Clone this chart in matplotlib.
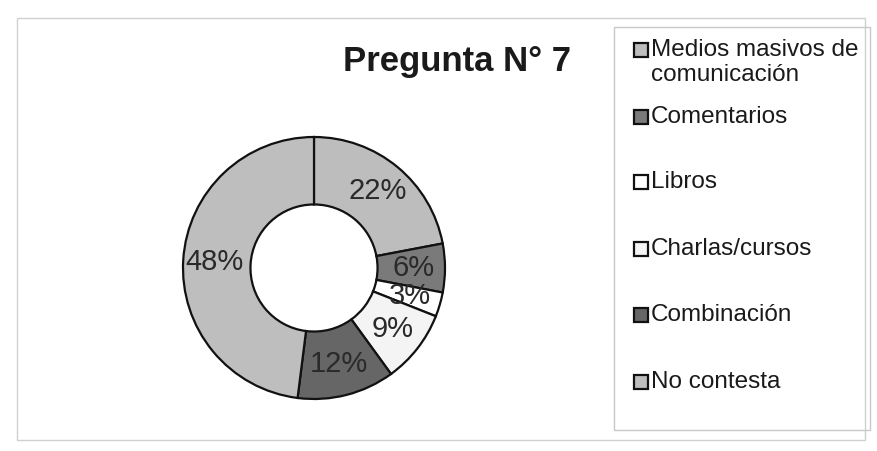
import matplotlib
matplotlib.use("Agg")
import matplotlib.pyplot as plt
from matplotlib.patches import Rectangle

plt.rcParams['font.family'] = ['Liberation Sans', 'DejaVu Sans']

title = "Pregunta N° 7"
categories = ["Medios masivos de\ncomunicación", "Comentarios", "Libros",
              "Charlas/cursos", "Combinación", "No contesta"]
values = [22, 6, 3, 9, 12, 48]
colors = ["#bdbdbd", "#7a7a7a", "#ffffff", "#f4f4f4", "#666666", "#bebebe"]

W, H = 877, 451
fig = plt.figure(figsize=(W / 100, H / 100), dpi=100)
fig.patch.set_facecolor("white")

# outer chart border
fig.add_artist(Rectangle((17 / W, 1 - 440 / H), (865 - 17) / W, (440 - 18) / H,
                         transform=fig.transFigure, fill=False,
                         edgecolor="#d0d0d0", linewidth=1))

# donut
cx, cy, r = 314, 268, 131
ax = fig.add_axes([(cx - r) / W, (H - cy - r) / H, 2 * r / W, 2 * r / H])
wedges, texts, autotexts = ax.pie(
    values, colors=colors, startangle=90, counterclock=False, radius=1,
    autopct=lambda p: f"{p:.0f}%", pctdistance=0.76,
    wedgeprops=dict(width=0.515, edgecolor="#111111", linewidth=1.6),
    textprops=dict(fontsize=21, color="#2a2a2a"))
ax.set_xlim(-1, 1)
ax.set_ylim(-1, 1)
ax.set_aspect("auto")
ax.axis("off")
for w in wedges:
    w.set_clip_on(False)

# title
fig.text(457 / W, 1 - 62 / H, title, fontsize=25, fontweight="bold",
         ha="center", va="center", color="#1a1a1a")

# legend box
fig.add_artist(Rectangle((614 / W, 1 - 430 / H), (870 - 614) / W, (430 - 27) / H,
                         transform=fig.transFigure, fill=False,
                         edgecolor="#c8c8c8", linewidth=1))

legend_y = [48, 115, 180, 247, 313, 380]
sq = 14
for lab, col, y in zip(categories, colors, legend_y):
    fig.add_artist(Rectangle((634 / W, 1 - (y + 2 + sq / 2) / H), sq / W, sq / H,
                             transform=fig.transFigure, facecolor=col,
                             edgecolor="#111111", linewidth=1.6))
    fig.text(651 / W, 1 - (y - 9) / H, lab, fontsize=17.5, ha="left", va="top",
             color="#1a1a1a", linespacing=1.15)

fig.savefig("out.png", dpi=100)
